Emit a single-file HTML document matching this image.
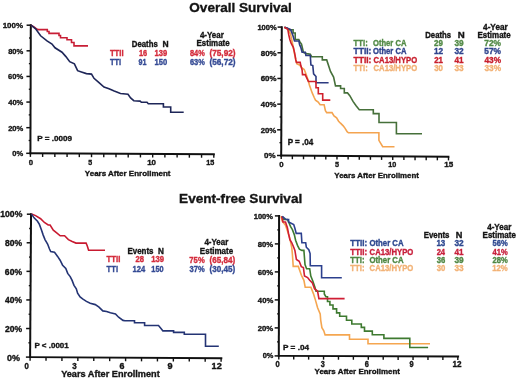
<!DOCTYPE html>
<html><head><meta charset="utf-8"><title>Survival curves</title><style>
html,body{margin:0;padding:0;background:#fff;}
body{width:520px;height:380px;overflow:hidden;font-family:"Liberation Sans",sans-serif;}
svg{display:block;filter:blur(0.3px);}
</style></head><body>
<svg width="520" height="380" viewBox="0 0 520 380" font-family="Liberation Sans, sans-serif" font-weight="bold" style="will-change:transform">
<rect width="520" height="380" fill="#fff"/>
<text x="189.34" y="11.60" font-size="13.4" fill="#141414" stroke="#141414" stroke-width="0.35" textLength="102.41" lengthAdjust="spacingAndGlyphs">Overall Survival</text>
<text x="179.09" y="202.60" font-size="13.4" fill="#141414" stroke="#141414" stroke-width="0.35" textLength="123.17" lengthAdjust="spacingAndGlyphs">Event-free Survival</text>
<line x1="30.80" y1="24.30" x2="30.40" y2="154.20" stroke="#111" stroke-width="2.0"/>
<line x1="29.50" y1="153.30" x2="214.80" y2="154.20" stroke="#111" stroke-width="1.9"/>
<line x1="26.20" y1="153.30" x2="30.40" y2="153.30" stroke="#111" stroke-width="1.5"/>
<line x1="28.64" y1="140.49" x2="30.44" y2="140.49" stroke="#111" stroke-width="1.3"/>
<line x1="26.28" y1="127.68" x2="30.48" y2="127.68" stroke="#111" stroke-width="1.5"/>
<line x1="28.72" y1="114.87" x2="30.52" y2="114.87" stroke="#111" stroke-width="1.3"/>
<line x1="26.36" y1="102.06" x2="30.56" y2="102.06" stroke="#111" stroke-width="1.5"/>
<line x1="28.80" y1="89.25" x2="30.60" y2="89.25" stroke="#111" stroke-width="1.3"/>
<line x1="26.44" y1="76.44" x2="30.64" y2="76.44" stroke="#111" stroke-width="1.5"/>
<line x1="28.88" y1="63.63" x2="30.68" y2="63.63" stroke="#111" stroke-width="1.3"/>
<line x1="26.52" y1="50.82" x2="30.72" y2="50.82" stroke="#111" stroke-width="1.5"/>
<line x1="28.96" y1="38.01" x2="30.76" y2="38.01" stroke="#111" stroke-width="1.3"/>
<line x1="26.60" y1="25.20" x2="30.80" y2="25.20" stroke="#111" stroke-width="1.5"/>
<line x1="30.40" y1="153.30" x2="30.40" y2="156.90" stroke="#111" stroke-width="1.4"/>
<line x1="42.63" y1="153.36" x2="42.63" y2="156.96" stroke="#111" stroke-width="1.4"/>
<line x1="54.85" y1="153.42" x2="54.85" y2="157.02" stroke="#111" stroke-width="1.4"/>
<line x1="67.08" y1="153.48" x2="67.08" y2="157.08" stroke="#111" stroke-width="1.4"/>
<line x1="79.31" y1="153.54" x2="79.31" y2="157.14" stroke="#111" stroke-width="1.4"/>
<line x1="91.53" y1="153.60" x2="91.53" y2="157.20" stroke="#111" stroke-width="1.4"/>
<line x1="103.76" y1="153.66" x2="103.76" y2="157.26" stroke="#111" stroke-width="1.4"/>
<line x1="115.99" y1="153.72" x2="115.99" y2="157.32" stroke="#111" stroke-width="1.4"/>
<line x1="128.21" y1="153.78" x2="128.21" y2="157.38" stroke="#111" stroke-width="1.4"/>
<line x1="140.44" y1="153.84" x2="140.44" y2="157.44" stroke="#111" stroke-width="1.4"/>
<line x1="152.67" y1="153.90" x2="152.67" y2="157.50" stroke="#111" stroke-width="1.4"/>
<line x1="164.89" y1="153.96" x2="164.89" y2="157.56" stroke="#111" stroke-width="1.4"/>
<line x1="177.12" y1="154.02" x2="177.12" y2="157.62" stroke="#111" stroke-width="1.4"/>
<line x1="189.35" y1="154.08" x2="189.35" y2="157.68" stroke="#111" stroke-width="1.4"/>
<line x1="201.57" y1="154.14" x2="201.57" y2="157.74" stroke="#111" stroke-width="1.4"/>
<line x1="213.80" y1="154.20" x2="213.80" y2="157.80" stroke="#111" stroke-width="1.4"/>
<text x="2.70" y="28.00" font-size="7.8" fill="#141414" stroke="#141414" stroke-width="0.35" textLength="20.41" lengthAdjust="spacingAndGlyphs">100%</text>
<text x="8.16" y="53.75" font-size="7.8" fill="#141414" stroke="#141414" stroke-width="0.35" textLength="15.14" lengthAdjust="spacingAndGlyphs">80%</text>
<text x="8.12" y="79.45" font-size="7.8" fill="#141414" stroke="#141414" stroke-width="0.35" textLength="15.18" lengthAdjust="spacingAndGlyphs">60%</text>
<text x="8.29" y="105.05" font-size="7.8" fill="#141414" stroke="#141414" stroke-width="0.35" textLength="15.01" lengthAdjust="spacingAndGlyphs">40%</text>
<text x="8.14" y="130.75" font-size="7.8" fill="#141414" stroke="#141414" stroke-width="0.35" textLength="15.16" lengthAdjust="spacingAndGlyphs">20%</text>
<text x="12.30" y="156.25" font-size="7.8" fill="#141414" stroke="#141414" stroke-width="0.35" textLength="10.90" lengthAdjust="spacingAndGlyphs">0%</text>
<text x="28.79" y="164.80" font-size="7.8" fill="#141414" stroke="#141414" stroke-width="0.35" textLength="4.33" lengthAdjust="spacingAndGlyphs">0</text>
<text x="88.28" y="164.80" font-size="7.8" fill="#141414" stroke="#141414" stroke-width="0.35" textLength="3.91" lengthAdjust="spacingAndGlyphs">5</text>
<text x="147.20" y="164.80" font-size="7.8" fill="#141414" stroke="#141414" stroke-width="0.35" textLength="8.83" lengthAdjust="spacingAndGlyphs">10</text>
<text x="206.14" y="164.80" font-size="7.8" fill="#141414" stroke="#141414" stroke-width="0.35" textLength="8.06" lengthAdjust="spacingAndGlyphs">15</text>
<text x="84.86" y="176.40" font-size="8.1" fill="#141414" stroke="#141414" stroke-width="0.35" textLength="85.63" lengthAdjust="spacingAndGlyphs">Years After Enrollment</text>
<text x="37.36" y="141.30" font-size="7.9" fill="#141414" stroke="#141414" stroke-width="0.35" textLength="34.74" lengthAdjust="spacingAndGlyphs">P = .0009</text>
<text x="131.78" y="46.50" font-size="8.4" fill="#141414" stroke="#141414" stroke-width="0.35" textLength="26.04" lengthAdjust="spacingAndGlyphs">Deaths</text>
<text x="162.53" y="46.50" font-size="8.4" fill="#141414" stroke="#141414" stroke-width="0.35" textLength="6.14" lengthAdjust="spacingAndGlyphs">N</text>
<text x="199.88" y="37.90" font-size="8.4" fill="#141414" stroke="#141414" stroke-width="0.35" textLength="23.94" lengthAdjust="spacingAndGlyphs">4-Year</text>
<text x="196.57" y="45.90" font-size="8.4" fill="#141414" stroke="#141414" stroke-width="0.35" textLength="33.10" lengthAdjust="spacingAndGlyphs">Estimate</text>
<text x="109.91" y="55.80" font-size="8.4" fill="#d42c3c" stroke="#d42c3c" stroke-width="0.35" textLength="13.70" lengthAdjust="spacingAndGlyphs">TTII</text>
<text x="138.93" y="55.80" font-size="8.4" fill="#d42c3c" stroke="#d42c3c" stroke-width="0.35" textLength="8.23" lengthAdjust="spacingAndGlyphs">16</text>
<text x="154.52" y="55.80" font-size="8.4" fill="#d42c3c" stroke="#d42c3c" stroke-width="0.35" textLength="12.66" lengthAdjust="spacingAndGlyphs">139</text>
<text x="189.96" y="56.10" font-size="8.4" fill="#d42c3c" stroke="#d42c3c" stroke-width="0.35" textLength="14.83" lengthAdjust="spacingAndGlyphs">84%</text>
<text x="209.39" y="56.10" font-size="8.4" fill="#d42c3c" stroke="#d42c3c" stroke-width="0.35" textLength="26.22" lengthAdjust="spacingAndGlyphs">(75,92)</text>
<text x="109.92" y="64.90" font-size="8.4" fill="#344a94" stroke="#344a94" stroke-width="0.35" textLength="11.18" lengthAdjust="spacingAndGlyphs">TTI</text>
<text x="138.55" y="64.90" font-size="8.4" fill="#344a94" stroke="#344a94" stroke-width="0.35" textLength="7.95" lengthAdjust="spacingAndGlyphs">91</text>
<text x="154.52" y="64.90" font-size="8.4" fill="#344a94" stroke="#344a94" stroke-width="0.35" textLength="12.69" lengthAdjust="spacingAndGlyphs">150</text>
<text x="189.93" y="65.30" font-size="8.4" fill="#344a94" stroke="#344a94" stroke-width="0.35" textLength="14.87" lengthAdjust="spacingAndGlyphs">63%</text>
<text x="209.39" y="65.30" font-size="8.4" fill="#344a94" stroke="#344a94" stroke-width="0.35" textLength="26.22" lengthAdjust="spacingAndGlyphs">(56,72)</text>
<path d="M31,25.2 L34,27 L36,28.5 L38,29.6 H47.3 V31.5 H49 V33.4 H59 V35.5 H60.5 V37.8 H67 V39.8 H71.5 V42.5 H74 V45.9 H88" stroke="#c81e36" stroke-width="1.6" fill="none" stroke-linejoin="miter"/>
<path d="M31,25.2 L35.6,28.8 L40.6,35.8 L47,40.8 L52,44 L55,47.8 L62,52.2 L65.9,56.6 L69.7,61.7 L74.4,63.8 L77.6,70.7 L81.4,72 L86.4,73.6 L91.5,74.1 L94,78.3 L99,82.7 L104,87.1 L109,88.8 L114.2,91 L120.5,93.5 L128,94.3 L130.6,97.9 L133.8,100.7 L140.1,101.1 L141.4,102.3 H147 L148.3,103.8 H163.4 V107.0 H170.7 V112.2 H183.7" stroke="#1e2658" stroke-width="1.6" fill="none" stroke-linejoin="miter"/>
<line x1="281.80" y1="26.20" x2="281.20" y2="156.40" stroke="#111" stroke-width="2.0"/>
<line x1="280.30" y1="155.50" x2="449.40" y2="156.80" stroke="#111" stroke-width="1.9"/>
<line x1="277.00" y1="155.50" x2="281.20" y2="155.50" stroke="#111" stroke-width="1.5"/>
<line x1="279.46" y1="142.66" x2="281.26" y2="142.66" stroke="#111" stroke-width="1.3"/>
<line x1="277.12" y1="129.82" x2="281.32" y2="129.82" stroke="#111" stroke-width="1.5"/>
<line x1="279.58" y1="116.98" x2="281.38" y2="116.98" stroke="#111" stroke-width="1.3"/>
<line x1="277.24" y1="104.14" x2="281.44" y2="104.14" stroke="#111" stroke-width="1.5"/>
<line x1="279.70" y1="91.30" x2="281.50" y2="91.30" stroke="#111" stroke-width="1.3"/>
<line x1="277.36" y1="78.46" x2="281.56" y2="78.46" stroke="#111" stroke-width="1.5"/>
<line x1="279.82" y1="65.62" x2="281.62" y2="65.62" stroke="#111" stroke-width="1.3"/>
<line x1="277.48" y1="52.78" x2="281.68" y2="52.78" stroke="#111" stroke-width="1.5"/>
<line x1="279.94" y1="39.94" x2="281.74" y2="39.94" stroke="#111" stroke-width="1.3"/>
<line x1="277.60" y1="27.10" x2="281.80" y2="27.10" stroke="#111" stroke-width="1.5"/>
<line x1="281.20" y1="155.50" x2="281.20" y2="159.10" stroke="#111" stroke-width="1.4"/>
<line x1="292.35" y1="155.59" x2="292.35" y2="159.19" stroke="#111" stroke-width="1.4"/>
<line x1="303.51" y1="155.67" x2="303.51" y2="159.27" stroke="#111" stroke-width="1.4"/>
<line x1="314.66" y1="155.76" x2="314.66" y2="159.36" stroke="#111" stroke-width="1.4"/>
<line x1="325.81" y1="155.85" x2="325.81" y2="159.45" stroke="#111" stroke-width="1.4"/>
<line x1="336.97" y1="155.93" x2="336.97" y2="159.53" stroke="#111" stroke-width="1.4"/>
<line x1="348.12" y1="156.02" x2="348.12" y2="159.62" stroke="#111" stroke-width="1.4"/>
<line x1="359.27" y1="156.10" x2="359.27" y2="159.70" stroke="#111" stroke-width="1.4"/>
<line x1="370.43" y1="156.19" x2="370.43" y2="159.79" stroke="#111" stroke-width="1.4"/>
<line x1="381.58" y1="156.28" x2="381.58" y2="159.88" stroke="#111" stroke-width="1.4"/>
<line x1="392.73" y1="156.36" x2="392.73" y2="159.96" stroke="#111" stroke-width="1.4"/>
<line x1="403.89" y1="156.45" x2="403.89" y2="160.05" stroke="#111" stroke-width="1.4"/>
<line x1="415.04" y1="156.54" x2="415.04" y2="160.14" stroke="#111" stroke-width="1.4"/>
<line x1="426.19" y1="156.62" x2="426.19" y2="160.22" stroke="#111" stroke-width="1.4"/>
<line x1="437.35" y1="156.71" x2="437.35" y2="160.31" stroke="#111" stroke-width="1.4"/>
<line x1="448.50" y1="156.80" x2="448.50" y2="160.40" stroke="#111" stroke-width="1.4"/>
<text x="257.42" y="29.90" font-size="7.5" fill="#141414" stroke="#141414" stroke-width="0.35" textLength="19.38" lengthAdjust="spacingAndGlyphs">100%</text>
<text x="260.75" y="55.50" font-size="7.5" fill="#141414" stroke="#141414" stroke-width="0.35" textLength="15.86" lengthAdjust="spacingAndGlyphs">80%</text>
<text x="260.71" y="81.20" font-size="7.5" fill="#141414" stroke="#141414" stroke-width="0.35" textLength="15.80" lengthAdjust="spacingAndGlyphs">60%</text>
<text x="260.88" y="106.80" font-size="7.5" fill="#141414" stroke="#141414" stroke-width="0.35" textLength="15.52" lengthAdjust="spacingAndGlyphs">40%</text>
<text x="260.73" y="132.50" font-size="7.5" fill="#141414" stroke="#141414" stroke-width="0.35" textLength="15.57" lengthAdjust="spacingAndGlyphs">20%</text>
<text x="264.08" y="158.20" font-size="7.5" fill="#141414" stroke="#141414" stroke-width="0.35" textLength="11.53" lengthAdjust="spacingAndGlyphs">0%</text>
<text x="279.19" y="166.80" font-size="7.9" fill="#141414" stroke="#141414" stroke-width="0.35" textLength="4.33" lengthAdjust="spacingAndGlyphs">0</text>
<text x="334.98" y="167.20" font-size="7.9" fill="#141414" stroke="#141414" stroke-width="0.35" textLength="4.02" lengthAdjust="spacingAndGlyphs">5</text>
<text x="388.34" y="167.30" font-size="7.9" fill="#141414" stroke="#141414" stroke-width="0.35" textLength="8.05" lengthAdjust="spacingAndGlyphs">10</text>
<text x="444.39" y="167.40" font-size="7.9" fill="#141414" stroke="#141414" stroke-width="0.35" textLength="8.93" lengthAdjust="spacingAndGlyphs">15</text>
<text x="334.37" y="177.50" font-size="8.0" fill="#141414" stroke="#141414" stroke-width="0.35" textLength="84.53" lengthAdjust="spacingAndGlyphs">Years After Enrollment</text>
<text x="287.66" y="145.30" font-size="8.2" fill="#141414" stroke="#141414" stroke-width="0.35" textLength="25.58" lengthAdjust="spacingAndGlyphs">P = .04</text>
<text x="425.28" y="38.10" font-size="8.4" fill="#141414" stroke="#141414" stroke-width="0.35" textLength="25.84" lengthAdjust="spacingAndGlyphs">Deaths</text>
<text x="457.85" y="38.10" font-size="8.4" fill="#141414" stroke="#141414" stroke-width="0.35" textLength="7.00" lengthAdjust="spacingAndGlyphs">N</text>
<text x="483.08" y="29.90" font-size="8.4" fill="#141414" stroke="#141414" stroke-width="0.35" textLength="24.64" lengthAdjust="spacingAndGlyphs">4-Year</text>
<text x="477.47" y="38.30" font-size="8.4" fill="#141414" stroke="#141414" stroke-width="0.35" textLength="33.21" lengthAdjust="spacingAndGlyphs">Estimate</text>
<text x="353.61" y="45.60" font-size="8.4" fill="#528a46" stroke="#528a46" stroke-width="0.35" textLength="14.13" lengthAdjust="spacingAndGlyphs">TTI:</text>
<text x="372.99" y="45.60" font-size="8.4" fill="#528a46" stroke="#528a46" stroke-width="0.35" textLength="33.41" lengthAdjust="spacingAndGlyphs">Other CA</text>
<text x="434.12" y="45.60" font-size="8.4" fill="#528a46" stroke="#528a46" stroke-width="0.35" textLength="8.87" lengthAdjust="spacingAndGlyphs">29</text>
<text x="454.41" y="45.60" font-size="8.4" fill="#528a46" stroke="#528a46" stroke-width="0.35" textLength="9.20" lengthAdjust="spacingAndGlyphs">39</text>
<text x="484.24" y="45.60" font-size="8.4" fill="#528a46" stroke="#528a46" stroke-width="0.35" textLength="16.78" lengthAdjust="spacingAndGlyphs">72%</text>
<text x="353.61" y="54.40" font-size="8.4" fill="#30448e" stroke="#30448e" stroke-width="0.35" textLength="17.81" lengthAdjust="spacingAndGlyphs">TTII:</text>
<text x="372.99" y="54.40" font-size="8.4" fill="#30448e" stroke="#30448e" stroke-width="0.35" textLength="33.41" lengthAdjust="spacingAndGlyphs">Other CA</text>
<text x="433.88" y="54.40" font-size="8.4" fill="#30448e" stroke="#30448e" stroke-width="0.35" textLength="9.15" lengthAdjust="spacingAndGlyphs">12</text>
<text x="454.41" y="54.40" font-size="8.4" fill="#30448e" stroke="#30448e" stroke-width="0.35" textLength="9.22" lengthAdjust="spacingAndGlyphs">32</text>
<text x="484.34" y="54.40" font-size="8.4" fill="#30448e" stroke="#30448e" stroke-width="0.35" textLength="16.68" lengthAdjust="spacingAndGlyphs">57%</text>
<text x="353.61" y="62.90" font-size="8.4" fill="#c8202e" stroke="#c8202e" stroke-width="0.35" textLength="17.81" lengthAdjust="spacingAndGlyphs">TTII:</text>
<text x="373.58" y="62.90" font-size="8.4" fill="#c8202e" stroke="#c8202e" stroke-width="0.35" textLength="43.54" lengthAdjust="spacingAndGlyphs">CA13/HYPO</text>
<text x="434.13" y="62.90" font-size="8.4" fill="#c8202e" stroke="#c8202e" stroke-width="0.35" textLength="8.79" lengthAdjust="spacingAndGlyphs">21</text>
<text x="454.48" y="62.90" font-size="8.4" fill="#c8202e" stroke="#c8202e" stroke-width="0.35" textLength="9.05" lengthAdjust="spacingAndGlyphs">41</text>
<text x="484.47" y="62.90" font-size="8.4" fill="#c8202e" stroke="#c8202e" stroke-width="0.35" textLength="16.54" lengthAdjust="spacingAndGlyphs">43%</text>
<text x="353.61" y="71.30" font-size="8.4" fill="#f2b276" stroke="#f2b276" stroke-width="0.35" textLength="14.13" lengthAdjust="spacingAndGlyphs">TTI:</text>
<text x="373.58" y="71.30" font-size="8.4" fill="#f2b276" stroke="#f2b276" stroke-width="0.35" textLength="43.54" lengthAdjust="spacingAndGlyphs">CA13/HYPO</text>
<text x="434.22" y="71.30" font-size="8.4" fill="#f2b276" stroke="#f2b276" stroke-width="0.35" textLength="8.81" lengthAdjust="spacingAndGlyphs">30</text>
<text x="454.41" y="71.30" font-size="8.4" fill="#f2b276" stroke="#f2b276" stroke-width="0.35" textLength="9.19" lengthAdjust="spacingAndGlyphs">33</text>
<text x="484.41" y="71.30" font-size="8.4" fill="#f2b276" stroke="#f2b276" stroke-width="0.35" textLength="16.61" lengthAdjust="spacingAndGlyphs">33%</text>
<path d="M284.5,27.3 L288.8,29.6 L290.7,34.6 L292,41 L293.3,47.3 L294.5,53.6 L295.8,59.9 L297,64 L299.5,65 L302,68 L304.2,69.5 L306,74 L308.4,81.1 L309.4,85 L312.2,92.9 L314.2,97.5 L315.5,100.1 L318.2,102.1 L320.1,104.7 H324.1 L325.4,110.7 L326.7,112.6 H332 L334,115.9 L336.6,117.9 L338.6,121.2 L340.5,123.2 L343.2,125.8 L345.1,128.4 L347.1,131.7 L348.4,132.8 H378.9 V140.4 L382.7,146.7 H394.5" stroke="#f4a450" stroke-width="1.6" fill="none" stroke-linejoin="miter"/>
<path d="M284.5,27.3 L287.6,28.5 L289.4,29.8 H293.1 V33 H295.2 V39.5 H298.8 L299.9,41.9 L301.5,44.1 L303.4,52.3 L306.5,53.6 L310.3,54.2 L311.6,56.7 H322.3 V59.9 H326.7 L330.5,71.4 L333.6,77.1 L335.5,85.9 H340.6 V88.5 H344.3 V92.9 H347.5 L349.8,95.7 L353,101.4 L356.1,105.8 L359.3,109.7 H373.3 V113.6 H379 V122.5 H396.4 V133.8 H422" stroke="#46703a" stroke-width="1.6" fill="none" stroke-linejoin="miter"/>
<path d="M284.5,27.3 L287,28 L290.7,29.6 L292.6,34.6 L294.5,41 H298.9 L299.6,44.7 L300.8,47.3 L302.1,52.3 H305.3 L305.9,55.5 H310.3 L310.9,64.9 L312.8,65.6 L313.6,73.9 L316,76.5 V82.8 H328.6" stroke="#2c3a80" stroke-width="1.6" fill="none" stroke-linejoin="miter"/>
<path d="M284.3,27.3 L287.8,29.3 L288.8,35 L289.9,39.8 L291.2,43.5 L293.3,47.3 L294.5,52.3 L295.2,56.1 L295.8,59.9 L296.4,62.4 H300.2 L300.8,65.6 L302.1,70 L302.5,74.6 H305.2 L308.4,81.5 H316 V87.8 H318.3 V93.8 H322.7 V100.1 H330.3" stroke="#d0202c" stroke-width="1.6" fill="none" stroke-linejoin="miter"/>
<line x1="31.05" y1="213.30" x2="30.10" y2="358.00" stroke="#111" stroke-width="2.0"/>
<line x1="29.20" y1="357.10" x2="222.30" y2="358.20" stroke="#111" stroke-width="1.9"/>
<line x1="25.90" y1="357.10" x2="30.10" y2="357.10" stroke="#111" stroke-width="1.5"/>
<line x1="28.39" y1="342.81" x2="30.20" y2="342.81" stroke="#111" stroke-width="1.3"/>
<line x1="26.09" y1="328.52" x2="30.29" y2="328.52" stroke="#111" stroke-width="1.5"/>
<line x1="28.59" y1="314.23" x2="30.39" y2="314.23" stroke="#111" stroke-width="1.3"/>
<line x1="26.28" y1="299.94" x2="30.48" y2="299.94" stroke="#111" stroke-width="1.5"/>
<line x1="28.78" y1="285.65" x2="30.58" y2="285.65" stroke="#111" stroke-width="1.3"/>
<line x1="26.47" y1="271.36" x2="30.67" y2="271.36" stroke="#111" stroke-width="1.5"/>
<line x1="28.96" y1="257.07" x2="30.77" y2="257.07" stroke="#111" stroke-width="1.3"/>
<line x1="26.66" y1="242.78" x2="30.86" y2="242.78" stroke="#111" stroke-width="1.5"/>
<line x1="29.16" y1="228.49" x2="30.96" y2="228.49" stroke="#111" stroke-width="1.3"/>
<line x1="26.85" y1="214.20" x2="31.05" y2="214.20" stroke="#111" stroke-width="1.5"/>
<line x1="30.10" y1="357.10" x2="30.10" y2="360.70" stroke="#111" stroke-width="1.4"/>
<line x1="46.02" y1="357.19" x2="46.02" y2="360.79" stroke="#111" stroke-width="1.4"/>
<line x1="61.93" y1="357.28" x2="61.93" y2="360.88" stroke="#111" stroke-width="1.4"/>
<line x1="77.85" y1="357.37" x2="77.85" y2="360.97" stroke="#111" stroke-width="1.4"/>
<line x1="93.77" y1="357.46" x2="93.77" y2="361.06" stroke="#111" stroke-width="1.4"/>
<line x1="109.68" y1="357.56" x2="109.68" y2="361.16" stroke="#111" stroke-width="1.4"/>
<line x1="125.60" y1="357.65" x2="125.60" y2="361.25" stroke="#111" stroke-width="1.4"/>
<line x1="141.52" y1="357.74" x2="141.52" y2="361.34" stroke="#111" stroke-width="1.4"/>
<line x1="157.43" y1="357.83" x2="157.43" y2="361.43" stroke="#111" stroke-width="1.4"/>
<line x1="173.35" y1="357.92" x2="173.35" y2="361.52" stroke="#111" stroke-width="1.4"/>
<line x1="189.27" y1="358.01" x2="189.27" y2="361.61" stroke="#111" stroke-width="1.4"/>
<line x1="205.18" y1="358.10" x2="205.18" y2="361.70" stroke="#111" stroke-width="1.4"/>
<line x1="221.10" y1="358.19" x2="221.10" y2="361.79" stroke="#111" stroke-width="1.4"/>
<text x="0.26" y="217.40" font-size="8.4" fill="#141414" stroke="#141414" stroke-width="0.35" textLength="22.07" lengthAdjust="spacingAndGlyphs">100%</text>
<text x="4.93" y="246.00" font-size="8.4" fill="#141414" stroke="#141414" stroke-width="0.35" textLength="17.10" lengthAdjust="spacingAndGlyphs">80%</text>
<text x="4.89" y="274.50" font-size="8.4" fill="#141414" stroke="#141414" stroke-width="0.35" textLength="17.14" lengthAdjust="spacingAndGlyphs">60%</text>
<text x="5.07" y="303.20" font-size="8.4" fill="#141414" stroke="#141414" stroke-width="0.35" textLength="16.95" lengthAdjust="spacingAndGlyphs">40%</text>
<text x="4.90" y="331.80" font-size="8.4" fill="#141414" stroke="#141414" stroke-width="0.35" textLength="17.12" lengthAdjust="spacingAndGlyphs">20%</text>
<text x="7.14" y="360.60" font-size="8.4" fill="#141414" stroke="#141414" stroke-width="0.35" textLength="12.99" lengthAdjust="spacingAndGlyphs">0%</text>
<text x="24.49" y="369.00" font-size="8.3" fill="#141414" stroke="#141414" stroke-width="0.35" textLength="4.33" lengthAdjust="spacingAndGlyphs">0</text>
<text x="72.22" y="369.00" font-size="8.3" fill="#141414" stroke="#141414" stroke-width="0.35" textLength="4.48" lengthAdjust="spacingAndGlyphs">3</text>
<text x="119.57" y="369.00" font-size="8.3" fill="#141414" stroke="#141414" stroke-width="0.35" textLength="4.95" lengthAdjust="spacingAndGlyphs">6</text>
<text x="167.49" y="369.00" font-size="8.3" fill="#141414" stroke="#141414" stroke-width="0.35" textLength="5.05" lengthAdjust="spacingAndGlyphs">9</text>
<text x="211.63" y="369.00" font-size="8.3" fill="#141414" stroke="#141414" stroke-width="0.35" textLength="10.14" lengthAdjust="spacingAndGlyphs">12</text>
<text x="61.14" y="376.90" font-size="9.3" fill="#141414" stroke="#141414" stroke-width="0.35" textLength="98.67" lengthAdjust="spacingAndGlyphs">Years After Enrollment</text>
<text x="34.47" y="348.00" font-size="7.9" fill="#141414" stroke="#141414" stroke-width="0.35" textLength="34.25" lengthAdjust="spacingAndGlyphs">P &lt; .0001</text>
<text x="127.47" y="253.50" font-size="8.4" fill="#141414" stroke="#141414" stroke-width="0.35" textLength="26.06" lengthAdjust="spacingAndGlyphs">Events</text>
<text x="157.95" y="253.50" font-size="8.4" fill="#141414" stroke="#141414" stroke-width="0.35" textLength="5.90" lengthAdjust="spacingAndGlyphs">N</text>
<text x="204.38" y="245.00" font-size="8.4" fill="#141414" stroke="#141414" stroke-width="0.35" textLength="23.94" lengthAdjust="spacingAndGlyphs">4-Year</text>
<text x="199.87" y="253.90" font-size="8.4" fill="#141414" stroke="#141414" stroke-width="0.35" textLength="33.31" lengthAdjust="spacingAndGlyphs">Estimate</text>
<text x="106.61" y="262.20" font-size="8.4" fill="#d42c3c" stroke="#d42c3c" stroke-width="0.35" textLength="13.81" lengthAdjust="spacingAndGlyphs">TTII</text>
<text x="135.44" y="262.20" font-size="8.4" fill="#d42c3c" stroke="#d42c3c" stroke-width="0.35" textLength="8.50" lengthAdjust="spacingAndGlyphs">28</text>
<text x="151.31" y="262.20" font-size="8.4" fill="#d42c3c" stroke="#d42c3c" stroke-width="0.35" textLength="12.87" lengthAdjust="spacingAndGlyphs">139</text>
<text x="189.37" y="263.00" font-size="8.4" fill="#d42c3c" stroke="#d42c3c" stroke-width="0.35" textLength="15.33" lengthAdjust="spacingAndGlyphs">75%</text>
<text x="209.50" y="263.00" font-size="8.4" fill="#d42c3c" stroke="#d42c3c" stroke-width="0.35" textLength="25.60" lengthAdjust="spacingAndGlyphs">(65,84)</text>
<text x="106.61" y="272.30" font-size="8.4" fill="#344a94" stroke="#344a94" stroke-width="0.35" textLength="11.39" lengthAdjust="spacingAndGlyphs">TTI</text>
<text x="132.52" y="272.30" font-size="8.4" fill="#344a94" stroke="#344a94" stroke-width="0.35" textLength="12.62" lengthAdjust="spacingAndGlyphs">124</text>
<text x="151.34" y="272.30" font-size="8.4" fill="#344a94" stroke="#344a94" stroke-width="0.35" textLength="12.26" lengthAdjust="spacingAndGlyphs">150</text>
<text x="189.53" y="272.20" font-size="8.4" fill="#344a94" stroke="#344a94" stroke-width="0.35" textLength="15.17" lengthAdjust="spacingAndGlyphs">37%</text>
<text x="209.50" y="272.20" font-size="8.4" fill="#344a94" stroke="#344a94" stroke-width="0.35" textLength="25.60" lengthAdjust="spacingAndGlyphs">(30,45)</text>
<path d="M31.5,214.1 L35.6,215.6 L40.6,218.7 L44.4,222.5 L48.2,225 H50.1 L53.3,230.1 L56.4,232.6 L60.2,235.8 H64.6 L68.4,239.6 L72.2,241.5 L76,243.1 H86.1 L87.3,245.9 L88.6,250.3 H105" stroke="#c81a30" stroke-width="1.6" fill="none" stroke-linejoin="miter"/>
<path d="M31.5,214.1 L34.3,218.1 L37.5,221.3 L39.4,224.4 L41.3,229.5 L43.2,235.1 L45,239.6 L47.6,244 L49.5,249 L50.7,251.6 L54.5,252.2 L57.6,256.4 L60.1,260.2 L62.6,265.2 L65.8,268.4 L67.7,273.4 L70.2,276.6 L72.1,280.4 L74,285.4 L76.3,288.8 L77.6,293.2 L80.1,297 L82.6,298.9 L86.4,301.4 L90.2,303.3 L95.3,304.6 L99,307.1 L102.8,310.9 L106.6,311.5 L110.4,312.8 L115.5,314 L118.6,317.2 L123,320.4 L125,320.8 H134.5 V322.7 H144.6 V325.5 H158.5 L161,328.4 L162.9,330.9 H173.6 V332.4 H184.3 V334.3 H205.5 V346.3 H218.8" stroke="#243474" stroke-width="1.6" fill="none" stroke-linejoin="miter"/>
<line x1="279.10" y1="215.00" x2="278.80" y2="356.80" stroke="#111" stroke-width="2.0"/>
<line x1="277.90" y1="355.90" x2="459.10" y2="356.50" stroke="#111" stroke-width="1.9"/>
<line x1="274.60" y1="355.90" x2="278.80" y2="355.90" stroke="#111" stroke-width="1.5"/>
<line x1="277.03" y1="341.90" x2="278.83" y2="341.90" stroke="#111" stroke-width="1.3"/>
<line x1="274.66" y1="327.90" x2="278.86" y2="327.90" stroke="#111" stroke-width="1.5"/>
<line x1="277.09" y1="313.90" x2="278.89" y2="313.90" stroke="#111" stroke-width="1.3"/>
<line x1="274.72" y1="299.90" x2="278.92" y2="299.90" stroke="#111" stroke-width="1.5"/>
<line x1="277.15" y1="285.90" x2="278.95" y2="285.90" stroke="#111" stroke-width="1.3"/>
<line x1="274.78" y1="271.90" x2="278.98" y2="271.90" stroke="#111" stroke-width="1.5"/>
<line x1="277.21" y1="257.90" x2="279.01" y2="257.90" stroke="#111" stroke-width="1.3"/>
<line x1="274.84" y1="243.90" x2="279.04" y2="243.90" stroke="#111" stroke-width="1.5"/>
<line x1="277.27" y1="229.90" x2="279.07" y2="229.90" stroke="#111" stroke-width="1.3"/>
<line x1="274.90" y1="215.90" x2="279.10" y2="215.90" stroke="#111" stroke-width="1.5"/>
<line x1="278.80" y1="355.90" x2="278.80" y2="359.50" stroke="#111" stroke-width="1.4"/>
<line x1="293.72" y1="355.95" x2="293.72" y2="359.55" stroke="#111" stroke-width="1.4"/>
<line x1="308.63" y1="356.00" x2="308.63" y2="359.60" stroke="#111" stroke-width="1.4"/>
<line x1="323.55" y1="356.05" x2="323.55" y2="359.65" stroke="#111" stroke-width="1.4"/>
<line x1="338.47" y1="356.10" x2="338.47" y2="359.70" stroke="#111" stroke-width="1.4"/>
<line x1="353.38" y1="356.15" x2="353.38" y2="359.75" stroke="#111" stroke-width="1.4"/>
<line x1="368.30" y1="356.20" x2="368.30" y2="359.80" stroke="#111" stroke-width="1.4"/>
<line x1="383.22" y1="356.25" x2="383.22" y2="359.85" stroke="#111" stroke-width="1.4"/>
<line x1="398.13" y1="356.30" x2="398.13" y2="359.90" stroke="#111" stroke-width="1.4"/>
<line x1="413.05" y1="356.35" x2="413.05" y2="359.95" stroke="#111" stroke-width="1.4"/>
<line x1="427.97" y1="356.40" x2="427.97" y2="360.00" stroke="#111" stroke-width="1.4"/>
<line x1="442.88" y1="356.45" x2="442.88" y2="360.05" stroke="#111" stroke-width="1.4"/>
<line x1="457.80" y1="356.50" x2="457.80" y2="360.10" stroke="#111" stroke-width="1.4"/>
<text x="253.73" y="218.70" font-size="7.6" fill="#141414" stroke="#141414" stroke-width="0.35" textLength="19.27" lengthAdjust="spacingAndGlyphs">100%</text>
<text x="257.76" y="246.70" font-size="7.6" fill="#141414" stroke="#141414" stroke-width="0.35" textLength="15.45" lengthAdjust="spacingAndGlyphs">80%</text>
<text x="257.72" y="274.70" font-size="7.6" fill="#141414" stroke="#141414" stroke-width="0.35" textLength="15.49" lengthAdjust="spacingAndGlyphs">60%</text>
<text x="257.88" y="302.70" font-size="7.6" fill="#141414" stroke="#141414" stroke-width="0.35" textLength="15.42" lengthAdjust="spacingAndGlyphs">40%</text>
<text x="257.73" y="330.70" font-size="7.6" fill="#141414" stroke="#141414" stroke-width="0.35" textLength="15.57" lengthAdjust="spacingAndGlyphs">20%</text>
<text x="262.71" y="358.10" font-size="7.6" fill="#141414" stroke="#141414" stroke-width="0.35" textLength="10.69" lengthAdjust="spacingAndGlyphs">0%</text>
<text x="275.60" y="367.40" font-size="8.3" fill="#141414" stroke="#141414" stroke-width="0.35" textLength="4.21" lengthAdjust="spacingAndGlyphs">0</text>
<text x="320.73" y="367.40" font-size="8.3" fill="#141414" stroke="#141414" stroke-width="0.35" textLength="4.03" lengthAdjust="spacingAndGlyphs">3</text>
<text x="364.63" y="367.40" font-size="8.3" fill="#141414" stroke="#141414" stroke-width="0.35" textLength="4.14" lengthAdjust="spacingAndGlyphs">6</text>
<text x="409.44" y="367.40" font-size="8.3" fill="#141414" stroke="#141414" stroke-width="0.35" textLength="4.13" lengthAdjust="spacingAndGlyphs">9</text>
<text x="452.39" y="367.40" font-size="8.3" fill="#141414" stroke="#141414" stroke-width="0.35" textLength="9.04" lengthAdjust="spacingAndGlyphs">12</text>
<text x="314.57" y="374.30" font-size="8.0" fill="#141414" stroke="#141414" stroke-width="0.35" textLength="85.33" lengthAdjust="spacingAndGlyphs">Years After Enrollment</text>
<text x="283.06" y="349.50" font-size="7.8" fill="#141414" stroke="#141414" stroke-width="0.35" textLength="25.99" lengthAdjust="spacingAndGlyphs">P = .04</text>
<text x="423.67" y="237.70" font-size="8.4" fill="#141414" stroke="#141414" stroke-width="0.35" textLength="25.85" lengthAdjust="spacingAndGlyphs">Events</text>
<text x="455.89" y="237.70" font-size="8.4" fill="#141414" stroke="#141414" stroke-width="0.35" textLength="6.63" lengthAdjust="spacingAndGlyphs">N</text>
<text x="487.18" y="230.00" font-size="8.4" fill="#141414" stroke="#141414" stroke-width="0.35" textLength="24.24" lengthAdjust="spacingAndGlyphs">4-Year</text>
<text x="482.57" y="237.70" font-size="8.4" fill="#141414" stroke="#141414" stroke-width="0.35" textLength="33.31" lengthAdjust="spacingAndGlyphs">Estimate</text>
<text x="350.31" y="246.20" font-size="8.4" fill="#2e4890" stroke="#2e4890" stroke-width="0.35" textLength="16.96" lengthAdjust="spacingAndGlyphs">TTII:</text>
<text x="369.38" y="246.20" font-size="8.4" fill="#2e4890" stroke="#2e4890" stroke-width="0.35" textLength="34.23" lengthAdjust="spacingAndGlyphs">Other CA</text>
<text x="436.40" y="246.20" font-size="8.4" fill="#2e4890" stroke="#2e4890" stroke-width="0.35" textLength="8.89" lengthAdjust="spacingAndGlyphs">13</text>
<text x="454.41" y="246.20" font-size="8.4" fill="#2e4890" stroke="#2e4890" stroke-width="0.35" textLength="9.22" lengthAdjust="spacingAndGlyphs">32</text>
<text x="492.47" y="246.20" font-size="8.4" fill="#2e4890" stroke="#2e4890" stroke-width="0.35" textLength="15.23" lengthAdjust="spacingAndGlyphs">56%</text>
<text x="350.31" y="254.60" font-size="8.4" fill="#c8203c" stroke="#c8203c" stroke-width="0.35" textLength="16.96" lengthAdjust="spacingAndGlyphs">TTII:</text>
<text x="369.58" y="254.60" font-size="8.4" fill="#c8203c" stroke="#c8203c" stroke-width="0.35" textLength="43.74" lengthAdjust="spacingAndGlyphs">CA13/HYPO</text>
<text x="436.64" y="254.60" font-size="8.4" fill="#c8203c" stroke="#c8203c" stroke-width="0.35" textLength="8.40" lengthAdjust="spacingAndGlyphs">24</text>
<text x="454.48" y="254.60" font-size="8.4" fill="#c8203c" stroke="#c8203c" stroke-width="0.35" textLength="9.05" lengthAdjust="spacingAndGlyphs">41</text>
<text x="492.59" y="254.60" font-size="8.4" fill="#c8203c" stroke="#c8203c" stroke-width="0.35" textLength="15.11" lengthAdjust="spacingAndGlyphs">41%</text>
<text x="350.31" y="262.90" font-size="8.4" fill="#4e8642" stroke="#4e8642" stroke-width="0.35" textLength="14.23" lengthAdjust="spacingAndGlyphs">TTI:</text>
<text x="369.38" y="262.90" font-size="8.4" fill="#4e8642" stroke="#4e8642" stroke-width="0.35" textLength="34.23" lengthAdjust="spacingAndGlyphs">Other CA</text>
<text x="436.72" y="262.90" font-size="8.4" fill="#4e8642" stroke="#4e8642" stroke-width="0.35" textLength="8.55" lengthAdjust="spacingAndGlyphs">36</text>
<text x="454.41" y="262.90" font-size="8.4" fill="#4e8642" stroke="#4e8642" stroke-width="0.35" textLength="9.20" lengthAdjust="spacingAndGlyphs">39</text>
<text x="492.44" y="262.90" font-size="8.4" fill="#4e8642" stroke="#4e8642" stroke-width="0.35" textLength="15.27" lengthAdjust="spacingAndGlyphs">28%</text>
<text x="350.31" y="271.20" font-size="8.4" fill="#f2b276" stroke="#f2b276" stroke-width="0.35" textLength="14.23" lengthAdjust="spacingAndGlyphs">TTI:</text>
<text x="369.58" y="271.20" font-size="8.4" fill="#f2b276" stroke="#f2b276" stroke-width="0.35" textLength="43.74" lengthAdjust="spacingAndGlyphs">CA13/HYPO</text>
<text x="436.72" y="271.20" font-size="8.4" fill="#f2b276" stroke="#f2b276" stroke-width="0.35" textLength="8.59" lengthAdjust="spacingAndGlyphs">30</text>
<text x="454.41" y="271.20" font-size="8.4" fill="#f2b276" stroke="#f2b276" stroke-width="0.35" textLength="9.19" lengthAdjust="spacingAndGlyphs">33</text>
<text x="492.21" y="271.20" font-size="8.4" fill="#f2b276" stroke="#f2b276" stroke-width="0.35" textLength="15.49" lengthAdjust="spacingAndGlyphs">12%</text>
<path d="M281,216.3 L282.3,221.4 L285.5,225.2 L287.4,230.8 L289.3,236.5 L290.5,241.6 L291.8,247.9 L292.4,254.2 L293.2,266.4 H298.3 L301.4,275.3 L303.9,280.3 L305.2,287.2 H310.9 L313.4,293.6 L315.1,298.9 L317.6,307.7 L320.2,314 L320.7,320.1 L321.9,327.7 L323.8,330.8 L325.1,334.9 H349.5 V339.2 H368 V343.7 H430" stroke="#f5a650" stroke-width="1.6" fill="none" stroke-linejoin="miter"/>
<path d="M282.3,216.3 L283.6,219.5 H287.4 L288.6,222 L290.5,226.4 L292.4,229.6 L294.3,234.6 L295.6,240.3 L297.5,245.4 L299.4,249.1 L301.9,250.4 H303.9 L305,264.5 L306.6,268.7 H309.7 L310.8,276 L312.9,281.3 L315,287.6 L316,291.2 H324.3 V294 L325.9,296.7 H327.5 V301.5 H329.9 V305 H333 V308.9 H336.6 V312.9 H339.7 V316.3 H346.5 V320.3 H351.8 V324 H361.3 V327.4 H364.5 V331.1 H372.3 V334.8 H383.9 V338.4 H409.8 V347.5 H428.1" stroke="#3e7a30" stroke-width="1.6" fill="none" stroke-linejoin="miter"/>
<path d="M281.7,216.3 L283,222 H285.5 L287.4,227.7 L288.6,234 L289.9,239.7 L291.8,242.8 L293.7,247.2 L294.9,250.4 L296.4,259.5 L299.2,261.3 L301.3,266.6 L303.4,267.6 L304.5,276 L307.6,277.6 L309.7,280.3 L312.4,283 L314.5,288.7 L317.6,291.3 L318.9,298.6 H344.6" stroke="#d01e34" stroke-width="1.6" fill="none" stroke-linejoin="miter"/>
<path d="M282.3,216.3 L286.1,219.5 H288.6 V222 L293.7,224.5 L294.9,228.3 L296.2,233.4 H301.3 L301.9,242.8 H305.7 L306.3,247.2 L308.8,249.8 L310.1,253.6 L310.3,265.8 H321.6 V277.8 H341.8" stroke="#2c408e" stroke-width="1.6" fill="none" stroke-linejoin="miter"/>
</svg>
</body></html>
